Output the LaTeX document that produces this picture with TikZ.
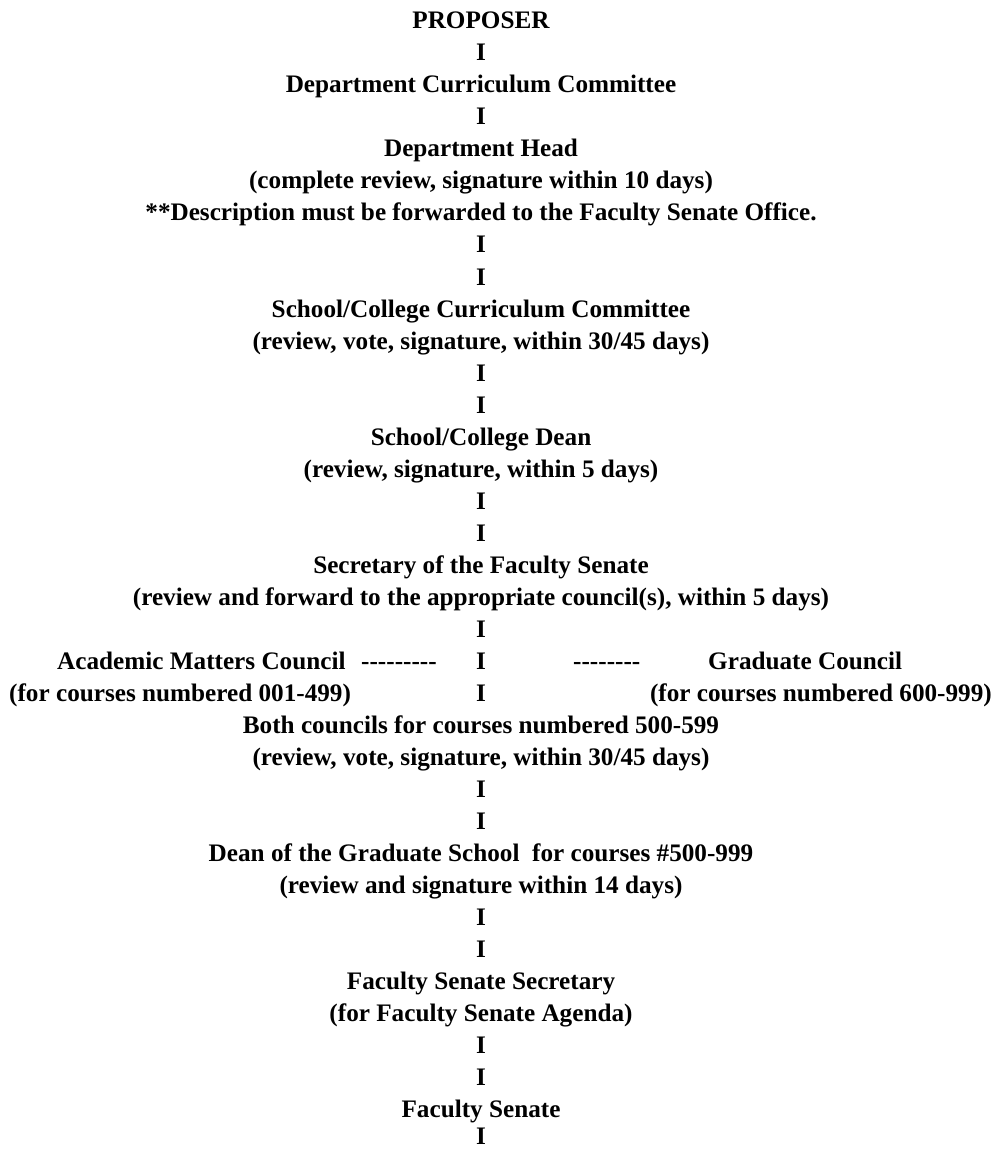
\documentclass[tikz,border=0pt]{standalone}
\usepackage{fontspec}
\setmainfont{Liberation Serif}
\tikzset{
  ln/.style={anchor=base, inner sep=0pt, font=\bfseries\fontsize{25.2}{30}\selectfont},
  lw/.style={ln, anchor=base west},
  le/.style={ln, anchor=base east},
  bar/.style={ln}
}
\begin{document}
\begin{tikzpicture}[x=1pt,y=-1pt]
\useasboundingbox[fill=white] (0,0) rectangle (996,1150);
\def\cx{481}
\node[ln]  (proposer) at (\cx,29)  {PROPOSER};
\node[bar] (b1)  at (\cx,61)  {I};
\node[ln]  (dcc) at (\cx,93)  {Department Curriculum Committee};
\node[bar] (b2)  at (\cx,125) {I};
\node[ln]  (dh)  at (\cx,157) {Department Head};
\node[ln]  (dh2) at (\cx,189) {(complete review, signature within 10 days)};
\node[ln]  (desc) at (\cx,221) {**Description must be forwarded to the Faculty Senate Office.};
\node[bar] (b3)  at (\cx,253) {I};
\node[bar] (b4)  at (\cx,285) {I};
\node[ln]  (sccc) at (\cx,317) {School/College Curriculum Committee};
\node[ln]  (sccc2) at (\cx,349) {(review, vote, signature, within 30/45 days)};
\node[bar] (b5)  at (\cx,381) {I};
\node[bar] (b6)  at (\cx,413) {I};
\node[ln]  (scd) at (\cx,445) {School/College Dean};
\node[ln]  (scd2) at (\cx,477) {(review, signature, within 5 days)};
\node[bar] (b7)  at (\cx,509) {I};
\node[bar] (b8)  at (\cx,541) {I};
\node[ln]  (sfs) at (\cx,573) {Secretary of the Faculty Senate};
\node[ln]  (sfs2) at (\cx,605) {(review and forward to the appropriate council(s), within 5 days)};
\node[bar] (b9)  at (\cx,637) {I};
% council row
\node[lw]  (amc) at (57,669) {Academic Matters Council};
\node[lw]  (d1)  at (361,669) {-{}-{}-{}-{}-{}-{}-{}-{}-};
\node[bar] (b10) at (\cx,669) {I};
\node[lw]  (d2)  at (573,669) {-{}-{}-{}-{}-{}-{}-{}-};
\node[lw]  (gc)  at (708,669) {Graduate Council};
\node[lw]  (amc2) at (9,701) {(for courses numbered 001-499)};
\node[bar] (b11) at (\cx,701) {I};
\node[le]  (gc2) at (992,701) {(for courses numbered 600-999)};
\node[ln]  (both) at (\cx,733) {Both councils for courses numbered 500-599};
\node[ln]  (both2) at (\cx,765) {(review, vote, signature, within 30/45 days)};
\node[bar] (b12) at (\cx,797) {I};
\node[bar] (b13) at (\cx,829) {I};
\node[ln]  (dgs) at (\cx,861) {Dean of the Graduate School\ \ for courses \#500-999};
\node[ln]  (dgs2) at (\cx,893) {(review and signature within 14 days)};
\node[bar] (b14) at (\cx,925) {I};
\node[bar] (b15) at (\cx,957) {I};
\node[ln]  (fss) at (\cx,989) {Faculty Senate Secretary};
\node[ln]  (fss2) at (\cx,1021) {(for Faculty Senate Agenda)};
\node[bar] (b16) at (\cx,1053) {I};
\node[bar] (b17) at (\cx,1085) {I};
\node[ln]  (fs)  at (\cx,1117) {Faculty Senate};
\node[bar] (b18) at (\cx,1144) {I};
\end{tikzpicture}
\end{document}
